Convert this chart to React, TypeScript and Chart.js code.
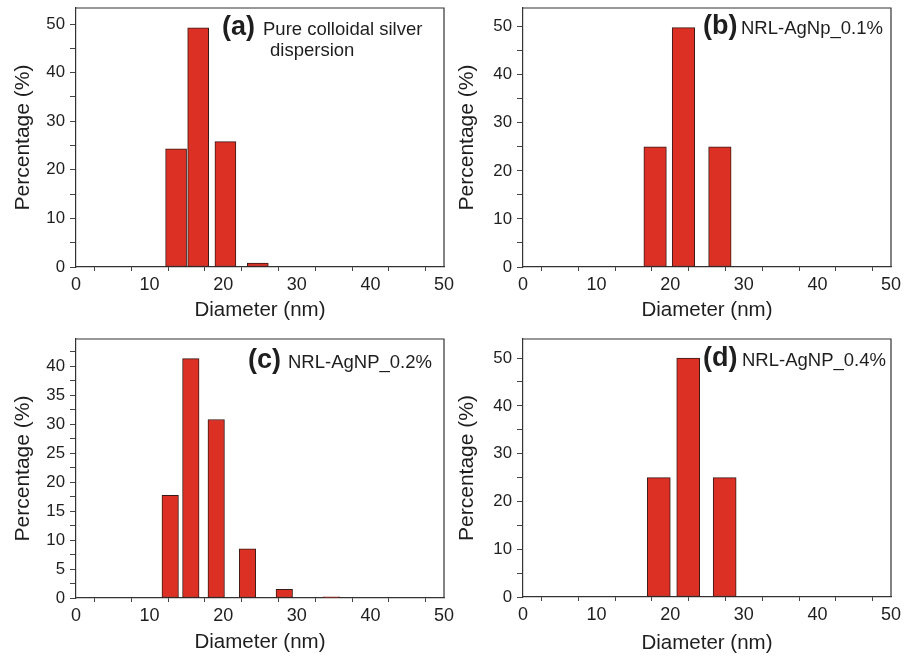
import React, { useEffect, useRef } from "react";
import { Chart, registerables } from "chart.js";

Chart.register(...registerables);

// ---- data ----
const aDiameter = [13.6, 16.6, 20.3, 24.7];
const aPercent = [24.3, 49.2, 25.8, 0.8];
const bDiameter = [17.95, 21.8, 26.75];
const bPercent = [25, 49.8, 25];
const cDiameter = [12.8, 15.6, 19.05, 23.3, 28.3, 34.7];
const cPercent = [17.7, 41.3, 30.8, 8.5, 1.5, 0.2];
const dDiameter = [18.45, 22.45, 27.4];
const dPercent = [25, 50, 25];

const xTitle = "Diameter (nm)";
const yTitle = "Percentage (%)";
const aTag = "(a)";
const aLabel = ["Pure colloidal silver", "dispersion"];
const bTag = "(b)";
const bLabel = ["NRL-AgNp_0.1%"];
const cTag = "(c)";
const cLabel = ["NRL-AgNP_0.2%"];
const dTag = "(d)";
const dLabel = ["NRL-AgNP_0.4%"];

const FONT = "'Liberation Sans', Arial, Helvetica, sans-serif";
const TEXT = "#1e1e1e";

type PanelCfg = {
  left: number;
  top: number;
  width: number;
  height: number;
  xs: number[];
  ys: number[];
  yMax: number;
  yStep: number;
  yLabelEvery: number;
  barPx: number;
  padTop: number;
  padRight: number;
  yWidth: number;
  xHeight: number;
  yTitlePad: number;
  xTitlePad: number;
  tag: string;
  label: string[];
  tagX: number;
  labelX: number[];
  baseY: number[];
  labelSize: number;
  tagSize: number;
};

const panels: PanelCfg[] = [
  {
    left: 0, top: 0, width: 456, height: 328,
    xs: aDiameter, ys: aPercent, yMax: 53.3, yStep: 5, yLabelEvery: 10, barPx: 21,
    padTop: 8, padRight: 12, yWidth: 76, xHeight: 61, yTitlePad: 12.5, xTitlePad: 7.5,
    tag: aTag, label: aLabel, tagX: 222, labelX: [263, 270], baseY: [35, 56], labelSize: 18.5, tagSize: 27,
  },
  {
    left: 456, top: 0, width: 457, height: 328,
    xs: bDiameter, ys: bPercent, yMax: 53.9, yStep: 5, yLabelEvery: 10, barPx: 22.5,
    padTop: 8, padRight: 22, yWidth: 67, xHeight: 61, yTitlePad: 1, xTitlePad: 7.5,
    tag: bTag, label: bLabel, tagX: 247, labelX: [285], baseY: [34], labelSize: 18.5, tagSize: 27,
  },
  {
    left: 0, top: 328, width: 456, height: 328,
    xs: cDiameter, ys: cPercent, yMax: 44.7, yStep: 2.5, yLabelEvery: 5, barPx: 16.5,
    padTop: 11, padRight: 12, yWidth: 76, xHeight: 58, yTitlePad: 12.5, xTitlePad: 3.5,
    tag: cTag, label: cLabel, tagX: 248, labelX: [288], baseY: [40], labelSize: 18.5, tagSize: 27,
  },
  {
    left: 456, top: 328, width: 457, height: 328,
    xs: dDiameter, ys: dPercent, yMax: 54, yStep: 5, yLabelEvery: 10, barPx: 23,
    padTop: 11, padRight: 22, yWidth: 67, xHeight: 59, yTitlePad: 1, xTitlePad: 2,
    tag: dTag, label: dLabel, tagX: 247, labelX: [286], baseY: [38], labelSize: 18.5, tagSize: 27,
  },
];

function Panel({ cfg }: { cfg: PanelCfg }) {
  const ref = useRef<HTMLCanvasElement | null>(null);
  useEffect(() => {
    if (!ref.current) return;
    const framePlugin = {
      id: "frame",
      afterDraw(chart: any) {
        const { ctx, chartArea } = chart;
        ctx.save();
        ctx.strokeStyle = "#333";
        ctx.lineWidth = 1.2;
        ctx.beginPath();
        ctx.moveTo(chartArea.left, chartArea.top);
        ctx.lineTo(chartArea.right, chartArea.top);
        ctx.lineTo(chartArea.right, chartArea.bottom);
        ctx.stroke();
        // annotation
        ctx.fillStyle = TEXT;
        ctx.textBaseline = "alphabetic";
        ctx.textAlign = "left";
        ctx.font = `bold ${cfg.tagSize}px ${FONT}`;
        ctx.fillText(cfg.tag, cfg.tagX, cfg.baseY[0]);
        ctx.font = `${cfg.labelSize}px ${FONT}`;
        cfg.label.forEach((t, i) => ctx.fillText(t, cfg.labelX[i], cfg.baseY[i]));
        ctx.restore();
      },
    };
    const chart = new Chart(ref.current, {
      type: "bar",
      data: {
        datasets: [
          {
            data: cfg.xs.map((x, i) => ({ x, y: cfg.ys[i] })),
            backgroundColor: "#dc3024",
            borderColor: "#3a1a16",
            borderWidth: 1,
            borderSkipped: false,
            barThickness: cfg.barPx,
          },
        ],
      },
      options: {
        animation: false,
        responsive: false,
        events: [],
        layout: { padding: { top: cfg.padTop, right: cfg.padRight, left: 0, bottom: 0 } },
        plugins: { legend: { display: false }, tooltip: { enabled: false } },
        scales: {
          x: {
            type: "linear",
            min: 0,
            max: 50,
            offset: false,
            afterFit: (s: any) => {
              s.height = cfg.xHeight;
              s.paddingLeft = 0;
              s.paddingRight = 0;
            },
            grid: { drawOnChartArea: false, drawTicks: true, tickLength: 4, color: "#444", tickWidth: 1 },
            border: { display: true, color: "#333", width: 1.2 },
            ticks: {
              stepSize: 5,
              autoSkip: false,
              maxRotation: 0,
              padding: 3,
              color: TEXT,
              font: { family: FONT, size: 18 },
              callback: (v: any) => (Number(v) % 10 === 0 ? String(v) : ""),
            },
            title: {
              display: true,
              text: xTitle,
              color: TEXT,
              font: { family: FONT, size: 20.5, lineHeight: 1 },
              padding: { top: 0, bottom: cfg.xTitlePad },
            },
          },
          y: {
            type: "linear",
            min: 0,
            max: cfg.yMax,
            afterFit: (s: any) => {
              s.width = cfg.yWidth;
              s.paddingTop = 0;
              s.paddingBottom = 0;
            },
            grid: { drawOnChartArea: false, drawTicks: true, tickLength: 6, color: "#444", tickWidth: 1 },
            border: { display: true, color: "#333", width: 1.2 },
            ticks: {
              stepSize: cfg.yStep,
              includeBounds: false,
              autoSkip: false,
              padding: 5,
              color: TEXT,
              font: { family: FONT, size: 16.8 },
              callback: (v: any) => (Math.abs(Number(v) % cfg.yLabelEvery) < 1e-9 ? String(v) : ""),
            },
            title: {
              display: true,
              text: yTitle,
              color: TEXT,
              font: { family: FONT, size: 21, lineHeight: 1 },
              padding: { top: cfg.yTitlePad, bottom: 0 },
            },
          },
        },
      } as any,
      plugins: [framePlugin],
    });
    return () => chart.destroy();
  }, [cfg]);
  return (
    <canvas
      ref={ref}
      width={cfg.width}
      height={cfg.height}
      style={{ position: "absolute", left: cfg.left, top: cfg.top, width: cfg.width, height: cfg.height }}
    />
  );
}

export default function App() {
  return (
    <div style={{ position: "fixed", left: 0, top: 0, width: 913, height: 656, background: "#fff" }}>
      {panels.map((p, i) => (
        <Panel key={i} cfg={p} />
      ))}
    </div>
  );
}
